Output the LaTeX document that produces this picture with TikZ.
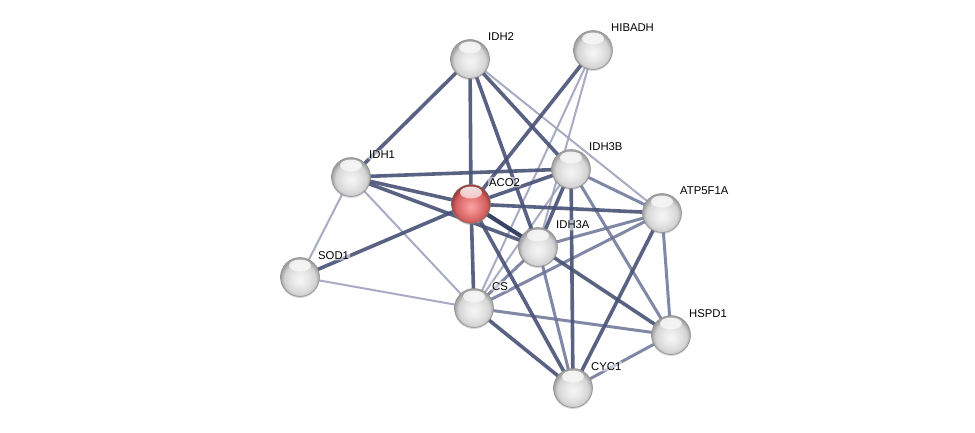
\documentclass[tikz,border=0pt]{standalone}
\usepackage{fontspec}
\setmainfont{Liberation Sans}
\usetikzlibrary{fadings,shadows}
\pgfdeclarelayer{back}
\pgfdeclarelayer{bg}
\pgfsetlayers{back,bg,main}
\definecolor{edgevery}{RGB}{48,58,95}
\definecolor{edgedark}{RGB}{72,82,118}
\definecolor{edgemid}{RGB}{108,116,150}
\definecolor{edgelight}{RGB}{158,164,190}
\definecolor{sphA}{RGB}{246,246,246}
\definecolor{sphB}{RGB}{232,232,232}
\definecolor{sphC}{RGB}{212,212,212}
\definecolor{sphD}{RGB}{160,160,160}
\definecolor{redA}{RGB}{248,165,165}
\definecolor{redB}{RGB}{234,128,128}
\definecolor{redC}{RGB}{210,95,95}
\definecolor{redD}{RGB}{160,60,60}
\pgfdeclareradialshading{greysphere}{\pgfpoint{0bp}{-4bp}}{color(0bp)=(sphA); color(10bp)=(sphB); color(20bp)=(sphC); color(25bp)=(sphD); color(50bp)=(sphD)}
\pgfdeclareradialshading{redsphere}{\pgfpoint{0bp}{-4bp}}{color(0bp)=(redA); color(10bp)=(redB); color(20bp)=(redC); color(25bp)=(redD); color(50bp)=(redD)}
\tikzset{
  ball/.style={circle, inner sep=0pt, minimum size=39pt, draw=black!45, line width=0.5pt,
    shading=greysphere,
    drop shadow={shadow xshift=0pt, shadow yshift=-1.5pt, opacity=0.3},
    path picture={\fill[white, path fading=south, fill opacity=0.9]
      ([yshift=11.5pt]path picture bounding box.center) ellipse (11pt and 6pt);}},
  redball/.style={ball, shading=redsphere, draw=black!50},
  lbl/.style={anchor=base west, inner sep=1.2pt, rounded corners=3pt, fill=white, fill opacity=0.55, text opacity=1,
    font=\fontsize{11.3}{13}\selectfont, text=black},
  ethick/.style={draw=edgedark, line width=3.6pt, opacity=0.9},
  every/.style={draw=edgevery, line width=4.2pt, opacity=0.95},
  emid/.style={draw=edgemid, line width=3pt, opacity=0.85},
  elight/.style={draw=edgelight, line width=2pt, opacity=0.9},
}
\begin{document}
\begin{tikzpicture}[x=1pt,y=-1pt]
\begin{pgfonlayer}{back}
\fill[white] (0,0) rectangle (975,433);
\end{pgfonlayer}
\useasboundingbox (0,0) rectangle (975,433);
% nodes
\node[ball] (idh2) at (470,59) {};
\node[ball] (hibadh) at (593,50) {};
\node[ball] (idh1) at (351,177) {};
\node[ball] (idh3b) at (571,169) {};
\node[redball] (aco2) at (471,204) {};
\node[ball] (atp) at (662,213) {};
\node[ball] (idh3a) at (538,247) {};
\node[ball] (sod1) at (300,277) {};
\node[ball] (cs) at (474,308) {};
\node[ball] (hspd1) at (671,335) {};
\node[ball] (cyc1) at (573,388) {};
% labels
\node[lbl] (l-idh2) at ([shift={(16.8pt,18pt)}]idh2.center) {IDH2};
\node[lbl] (l-hibadh) at ([shift={(16.8pt,18pt)}]hibadh.center) {HIBADH};
\node[lbl] (l-idh1) at ([shift={(16.8pt,18pt)}]idh1.center) {IDH1};
\node[lbl] (l-idh3b) at ([shift={(16.8pt,18pt)}]idh3b.center) {IDH3B};
\node[lbl] (l-aco2) at ([shift={(16.8pt,18pt)}]aco2.center) {ACO2};
\node[lbl] (l-atp) at ([shift={(16.8pt,18pt)}]atp.center) {ATP5F1A};
\node[lbl] (l-idh3a) at ([shift={(16.8pt,18pt)}]idh3a.center) {IDH3A};
\node[lbl] (l-sod1) at ([shift={(16.8pt,18pt)}]sod1.center) {SOD1};
\node[lbl] (l-cs) at ([shift={(16.8pt,18pt)}]cs.center) {CS};
\node[lbl] (l-hspd1) at ([shift={(16.8pt,18pt)}]hspd1.center) {HSPD1};
\node[lbl] (l-cyc1) at ([shift={(16.8pt,18pt)}]cyc1.center) {CYC1};
% edges
\begin{pgfonlayer}{bg}
\draw[elight] (idh2.center) -- (atp.center);
\draw[elight] (hibadh.center) -- (cs.center);
\draw[elight] (hibadh.center) -- (idh3a.center);
\draw[elight] (idh1.center) -- (sod1.center);
\draw[elight] (idh1.center) -- (cs.center);
\draw[elight] (sod1.center) -- (cs.center);
\draw[elight] (idh3b.center) -- (cs.center);
\draw[emid] (hspd1.center) -- (cyc1.center);
\draw[emid] (idh3b.center) -- (atp.center);
\draw[emid] (idh3b.center) -- (hspd1.center);
\draw[emid] (atp.center) -- (idh3a.center);
\draw[emid] (atp.center) -- (cs.center);
\draw[emid] (atp.center) -- (hspd1.center);
\draw[emid] (idh3a.center) -- (cs.center);
\draw[emid] (idh3a.center) -- (cyc1.center);
\draw[emid] (cs.center) -- (hspd1.center);
\draw[ethick] (idh2.center) -- (idh1.center);
\draw[ethick] (idh2.center) -- (aco2.center);
\draw[ethick] (idh2.center) -- (idh3a.center);
\draw[ethick] (idh2.center) -- (idh3b.center);
\draw[ethick] (hibadh.center) -- (aco2.center);
\draw[ethick] (idh1.center) -- (idh3b.center);
\draw[ethick] (idh1.center) -- (aco2.center);
\draw[ethick] (idh1.center) -- (idh3a.center);
\draw[ethick] (sod1.center) -- (aco2.center);
\draw[ethick] (aco2.center) -- (idh3b.center);
\draw[ethick] (aco2.center) -- (atp.center);
\draw[ethick] (aco2.center) -- (cs.center);
\draw[ethick] (aco2.center) -- (cyc1.center);
\draw[ethick] (idh3b.center) -- (idh3a.center);
\draw[ethick] (idh3b.center) -- (cyc1.center);
\draw[ethick] (atp.center) -- (cyc1.center);
\draw[ethick] (idh3a.center) -- (hspd1.center);
\draw[ethick] (cs.center) -- (cyc1.center);
\draw[every] (aco2.center) -- (idh3a.center);
\end{pgfonlayer}
\end{tikzpicture}
\end{document}
